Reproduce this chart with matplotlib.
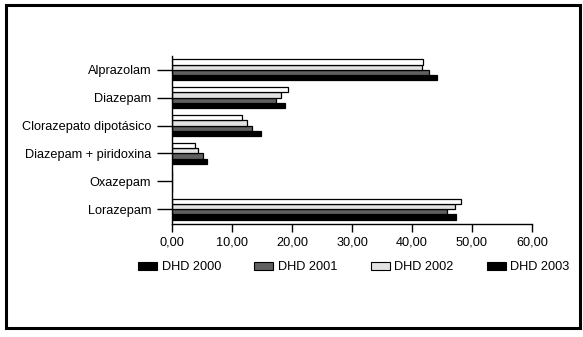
import numpy as np
import matplotlib
matplotlib.use("Agg")
import matplotlib.pyplot as plt
from matplotlib.patches import Patch, Rectangle

plt.rcParams['font.family'] = ['Liberation Sans', 'DejaVu Sans']

# Data
categories = ['Alprazolam', 'Diazepam', 'Clorazepato dipotásico',
              'Diazepam + piridoxina', 'Oxazepam', 'Lorazepam']
dhd_2000 = [44.2, 18.9, 14.8, 5.9, 0.0, 47.3]
dhd_2001 = [42.9, 17.4, 13.4, 5.2, 0.0, 45.9]
dhd_2002 = [41.6, 18.2, 12.5, 4.4, 0.0, 47.1]
dhd_2003 = [41.9, 19.4, 11.7, 3.9, 0.0, 48.1]
series_names = ['DHD 2000', 'DHD 2001', 'DHD 2002', 'DHD 2003']
x_ticks = [0, 10, 20, 30, 40, 50, 60]

fig = plt.figure(figsize=(5.83, 3.37), dpi=100)
ax = fig.add_axes([0.295, 0.334, 0.6175, 0.50])

y = np.arange(len(categories))
h = 0.1875
series = [dhd_2000, dhd_2001, dhd_2002, dhd_2003]
bar_colors = ['#000000', '#606060', '#e2e2e2', '#ffffff']
offsets = [1.5 * h, 0.5 * h, -0.5 * h, -1.5 * h]
for vals, col, off in zip(series, bar_colors, offsets):
    ax.barh(y + off, vals, height=h, color=col, edgecolor='black', linewidth=0.9)

ax.set_yticks(y)
ax.set_yticklabels(categories, fontsize=9.2)
ax.set_ylim(5.55, -0.5)
ax.set_xlim(0, 60)
ax.set_xticks(x_ticks)
ax.set_xticklabels(['%d,00' % v for v in x_ticks], fontsize=9.2)
ax.tick_params(axis='both', direction='out', width=1, color='black')
ax.tick_params(axis='x', length=6, pad=3)
ax.tick_params(axis='y', length=11, pad=4)
for side in ['top', 'right']:
    ax.spines[side].set_visible(False)
for side in ['left', 'bottom']:
    ax.spines[side].set_linewidth(1)

# legend (last entry shown in black as in the original)
legend_colors = ['#000000', '#606060', '#e2e2e2', '#000000']
handles = [Patch(facecolor=c, edgecolor='black', linewidth=0.8) for c in legend_colors]
fig.legend(handles, series_names, loc='center', bbox_to_anchor=(0.607, 0.207),
           ncol=4, frameon=False, fontsize=9.2, handlelength=1.5, handleheight=0.64,
           handletextpad=0.35, columnspacing=2.6)

# outer frame
fig.patches.append(Rectangle((6 / 583, 1 - 328 / 337), 574 / 583, 323.5 / 337,
                             transform=fig.transFigure, fill=False,
                             edgecolor='black', linewidth=2.2))

fig.savefig('out.png', dpi=100)
